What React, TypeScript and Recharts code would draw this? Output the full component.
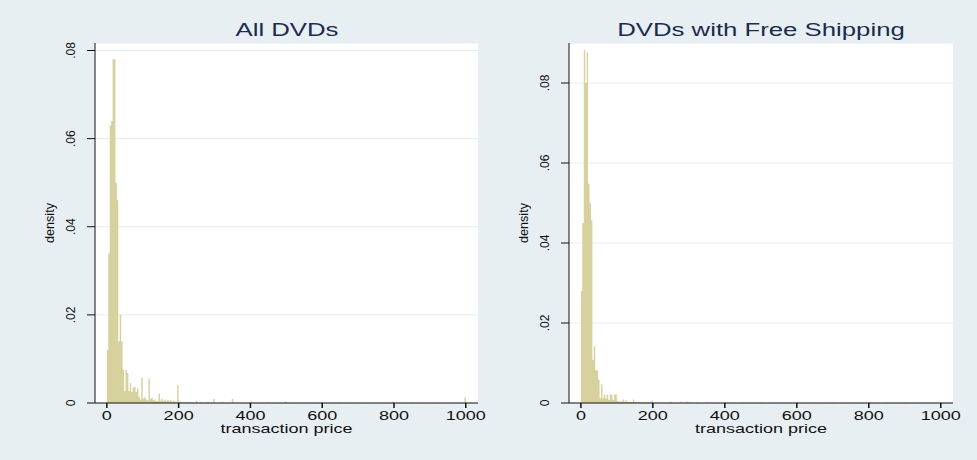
import React from 'react';
import { AreaChart, Area, XAxis, YAxis, CartesianGrid } from 'recharts';

const BIN_WIDTH = 4;
const xTicks = [0, 200, 400, 600, 800, 1000];
const yTicks = [0, 0.02, 0.04, 0.06, 0.08];

// All DVDs: density of each $4 bin from 0 up to 200
const allDensity = [
  0.012, 0.034, 0.063, 0.064, 0.078, 0.078, 0.05, 0.046, 0.014, 0.02,
  0.014, 0.0076, 0.0027, 0.0075, 0.0068, 0.0027, 0.0045, 0.0025, 0.0035, 0.0037,
  0.0025, 0.0033, 0.0014, 0.0008, 0.0058, 0.001, 0.0013, 0.0008, 0.0006, 0.0055,
  0.0009, 0.0012, 0.0006, 0.0008, 0.0004, 0.0005, 0.0021, 0.0005, 0.0009, 0.0004,
  0.0008, 0.0004, 0.0007, 0.0004, 0.0006, 0.0003, 0.0005, 0.0003, 0.0003, 0.0041,
];
// isolated bins past 200
const allTailPrice = [200, 204, 212, 220, 228, 236, 248, 260, 280, 296, 320, 348, 376, 400, 448, 496, 548, 596, 648, 696, 748, 796, 848, 896, 948, 996];
const allTailDensity = [0.0003, 0.0003, 0.0002, 0.0003, 0.0002, 0.0002, 0.0005, 0.0002, 0.0003, 0.0009, 0.0002, 0.0009, 0.0001, 0.0004, 0.0002, 0.0004, 0.0001, 0.0002, 0.0001, 0.0001, 0.0001, 0.0003, 0.0001, 0.0001, 0.0001, 0.0013];

// DVDs with free shipping
const freeDensity = [
  0.028, 0.045, 0.0883, 0.08, 0.0877, 0.0548, 0.05, 0.0457, 0.0108, 0.0142,
  0.0082, 0.0082, 0.0058, 0.0012, 0.0046, 0.0012, 0.0021, 0.0012, 0.0021, 0.0008,
  0.0021, 0.0021, 0.0008, 0.0021, 0.0021, 0.0005, 0.0003, 0.0004, 0.0003, 0.0009,
  0.0003, 0.0007, 0.0003, 0.0002, 0.0003, 0.0002, 0.0009, 0.0004, 0.0002, 0.0002,
  0.0003, 0.0001, 0.0002, 0.0001, 0.0002, 0.0001, 0.0002, 0.0001, 0.0001, 0.0006,
];
const freeTailPrice = [248, 276, 292, 300, 320, 348, 400, 448, 500, 548, 600, 652, 700, 748, 800, 848, 900, 948];
const freeTailDensity = [0.0004, 0.0003, 0.0004, 0.0002, 0.0001, 0.0002, 0.0001, 0.0001, 0.0001, 0.0001, 0.0001, 0.0001, 0.0001, 0.0001, 0.0001, 0.0001, 0.0001, 0.0001];

const BG = '#e8eff2';
const BAR = '#d7d19e';
const GRID = '#e6eef2';
const TITLE = '#1c2b50';
const FONT = '"Liberation Sans", Arial, Helvetica, sans-serif';
const STRETCH = 1.43;

function toSteps(density: number[], tailPrice: number[], tailDensity: number[]) {
  const bins = new Map<number, number>();
  density.forEach((d, i) => bins.set(i * BIN_WIDTH, d));
  tailPrice.forEach((p, i) => bins.set(p, tailDensity[i]));
  const starts = Array.from(bins.keys()).sort((a, b) => a - b);
  const rows: { price: number; density: number }[] = [];
  starts.forEach((s) => {
    rows.push({ price: s, density: bins.get(s) as number });
    if (!bins.has(s + BIN_WIDTH)) rows.push({ price: s + BIN_WIDTH, density: 0 });
  });
  return rows;
}

const fmtY = (v: number) => (v === 0 ? '0' : v.toFixed(2).replace(/^0/, ''));

const XTick = (props: any) => {
  const { x, y, payload } = props;
  return (
    <text
      transform={`translate(${x},${y}) scale(${STRETCH},1)`}
      textAnchor="middle"
      dy={9.8}
      fontSize={12.6}
      fontFamily={FONT}
      fill="#111"
    >
      {payload.value}
    </text>
  );
};

const YTick = (props: any) => {
  const { x, y, payload } = props;
  return (
    <text
      transform={`translate(${x},${y}) rotate(-90)`}
      textAnchor="middle"
      fontSize={12}
      fontFamily={FONT}
      fill="#111"
    >
      {fmtY(payload.value)}
    </text>
  );
};

interface PanelProps {
  title: string;
  data: { price: number; density: number }[];
  left: number;
  width: number;
  axisWidth: number;
  rightGap: number;
  yMax: number;
}

const Panel: React.FC<PanelProps> = ({ title, data, left, width, axisWidth, rightGap, yMax }) => {
  const plotW = width - axisWidth - rightGap;
  return (
    <div style={{ position: 'absolute', left, top: 0, width, height: 460 }}>
      <div
        style={{
          position: 'absolute',
          left: axisWidth + plotW / 2,
          top: 21,
          fontFamily: FONT,
          fontSize: 18,
          lineHeight: '18px',
          color: TITLE,
          whiteSpace: 'nowrap',
          transform: `translateX(-50%) scaleX(${STRETCH})`,
        }}
      >
        {title}
      </div>
      <AreaChart width={width} height={460} data={data} margin={{ top: 43, right: rightGap, bottom: 0, left: 0 }}>
        <CartesianGrid horizontal vertical={false} stroke={GRID} fill="#ffffff" />
        <XAxis
          type="number"
          dataKey="price"
          domain={[-33, 1034]}
          ticks={xTicks}
          interval={0}
          allowDataOverflow
          height={57}
          tickSize={5}
          tickMargin={2}
          axisLine={{ stroke: '#111' }}
          tickLine={{ stroke: '#111', strokeWidth: 1.5 }}
          tick={<XTick />}
          label={(p: any) => {
            const vb = p.viewBox;
            return (
              <text
                transform={`translate(${vb.x + vb.width / 2},${vb.y + 30}) scale(${STRETCH},1)`}
                textAnchor="middle"
                fontSize={12.6}
                fontFamily={FONT}
                fill="#111"
              >
                transaction price
              </text>
            );
          }}
        />
        <YAxis
          type="number"
          domain={[0, yMax]}
          ticks={yTicks}
          interval={0}
          allowDataOverflow
          width={axisWidth}
          tickSize={8}
          tickMargin={12}
          axisLine={{ stroke: '#111' }}
          tickLine={{ stroke: '#111' }}
          tick={<YTick />}
          label={(p: any) => {
            const vb = p.viewBox;
            return (
              <text
                transform={`translate(${vb.x + vb.width - 41.5},${vb.y + vb.height / 2}) rotate(-90)`}
                textAnchor="middle"
                fontSize={12.6}
                fontFamily={FONT}
                fill="#111"
              >
                density
              </text>
            );
          }}
        />
        <Area
          type="stepAfter"
          dataKey="density"
          stroke="none"
          fill={BAR}
          fillOpacity={1}
          dot={false}
          activeDot={false}
          isAnimationActive={false}
        />
      </AreaChart>
    </div>
  );
};

const allData = toSteps(allDensity, allTailPrice, allTailDensity);
const freeData = toSteps(freeDensity, freeTailPrice, freeTailDensity);

export default function App() {
  return (
    <div style={{ position: 'absolute', left: 0, top: 0, width: 977, height: 460, background: BG, overflow: 'hidden' }}>
      <Panel title="All DVDs" data={allData} left={0} width={488} axisWidth={95} rightGap={10} yMax={0.0817} />
      <Panel title="DVDs with Free Shipping" data={freeData} left={475} width={502} axisWidth={94} rightGap={24} yMax={0.09} />
    </div>
  );
}
